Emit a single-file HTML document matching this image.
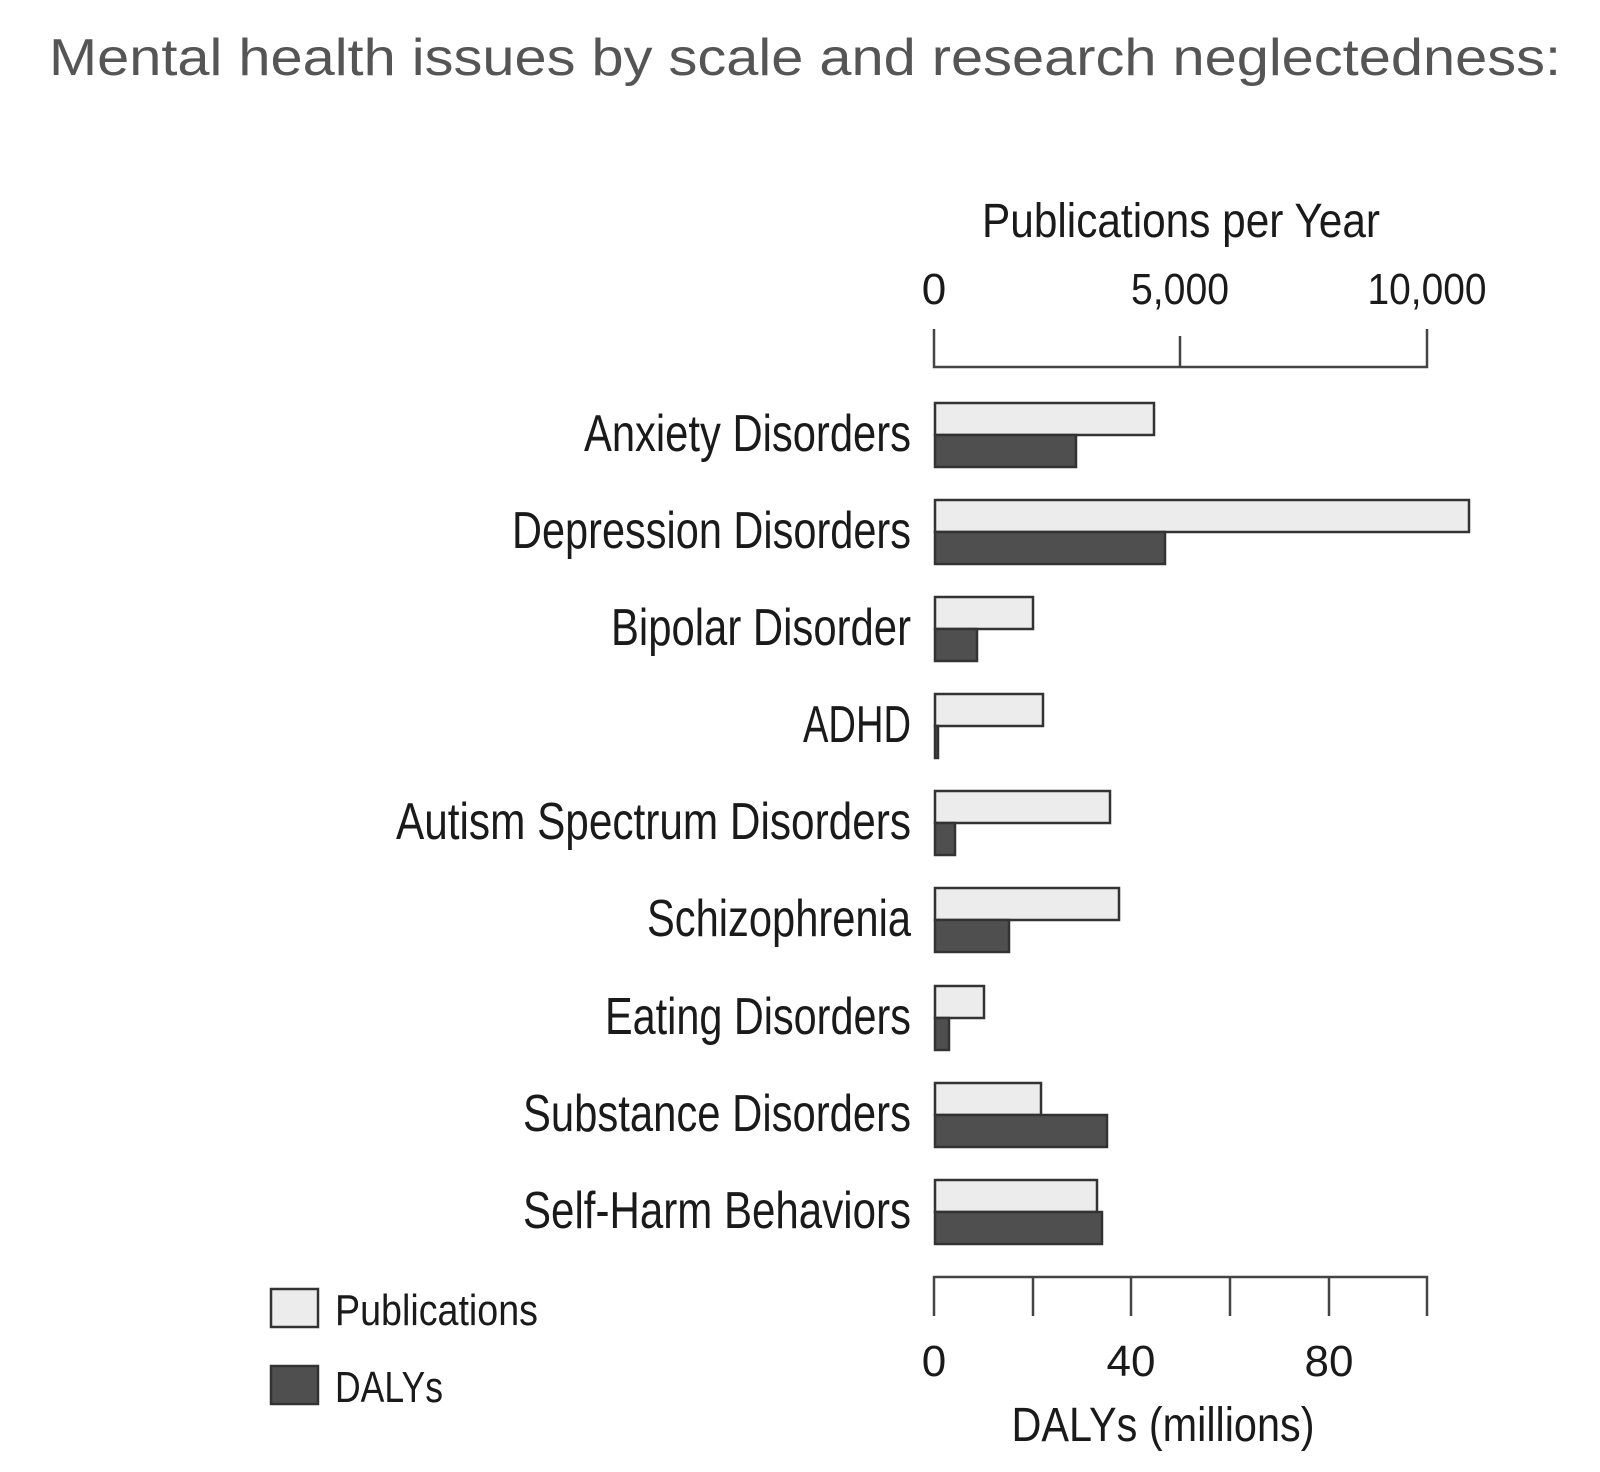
<!DOCTYPE html>
<html><head><meta charset="utf-8"><style>
html,body{margin:0;padding:0;background:#fff;}
svg{display:block;}
.n{font-family:"Liberation Sans",sans-serif;fill:#1a1a1a;}
</style></head><body>
<svg width="1600" height="1472" viewBox="0 0 1600 1472" xmlns="http://www.w3.org/2000/svg">
<text x="49" y="75" font-family="Liberation Sans, sans-serif" font-size="52" fill="#555" textLength="1512" lengthAdjust="spacingAndGlyphs">Mental health issues by scale and research neglectedness:</text>
<text class="n" x="982" y="237" font-size="48" textLength="398" lengthAdjust="spacingAndGlyphs">Publications per Year</text>
<g class="n" font-size="44" text-anchor="middle">
<text x="934" y="304">0</text>
<text x="1180" y="304" textLength="98" lengthAdjust="spacingAndGlyphs">5,000</text>
<text x="1427" y="304" textLength="119" lengthAdjust="spacingAndGlyphs">10,000</text>
<text x="934" y="1376">0</text><text x="1131" y="1376">40</text><text x="1329" y="1376">80</text>
</g>
<text class="n" x="1163" y="1441" font-size="48" text-anchor="middle" textLength="303" lengthAdjust="spacingAndGlyphs">DALYs (millions)</text>
<g stroke="#444" stroke-width="2.5" fill="none">
<path d="M934,329V367H1427V329M1180,336V367"/>
<path d="M934,1316V1277H1427V1316M1033,1277V1316M1131,1277V1316M1230,1277V1316M1329,1277V1316"/>
</g>
<g stroke="#333" stroke-width="2.5">
<rect x="935" y="403" width="219" height="32" fill="#ebeceb"/><rect x="935" y="435" width="141" height="32" fill="#4f4f50"/>
<rect x="935" y="500" width="534" height="32" fill="#ebeceb"/><rect x="935" y="532" width="230" height="32" fill="#4f4f50"/>
<rect x="935" y="597" width="98" height="32" fill="#ebeceb"/><rect x="935" y="629" width="42" height="32" fill="#4f4f50"/>
<rect x="935" y="694" width="108" height="32" fill="#ebeceb"/><rect x="935" y="726" width="3" height="32" fill="#4f4f50"/>
<rect x="935" y="791" width="175" height="32" fill="#ebeceb"/><rect x="935" y="823" width="20" height="32" fill="#4f4f50"/>
<rect x="935" y="888" width="184" height="32" fill="#ebeceb"/><rect x="935" y="920" width="74" height="32" fill="#4f4f50"/>
<rect x="935" y="986" width="49" height="32" fill="#ebeceb"/><rect x="935" y="1018" width="14" height="32" fill="#4f4f50"/>
<rect x="935" y="1083" width="106" height="32" fill="#ebeceb"/><rect x="935" y="1115" width="172" height="32" fill="#4f4f50"/>
<rect x="935" y="1180" width="162" height="32" fill="#ebeceb"/><rect x="935" y="1212" width="167" height="32" fill="#4f4f50"/>
</g>
<g class="n" font-size="52" text-anchor="end">
<text x="911" y="451" textLength="327" lengthAdjust="spacingAndGlyphs">Anxiety Disorders</text>
<text x="911" y="548" textLength="399" lengthAdjust="spacingAndGlyphs">Depression Disorders</text>
<text x="911" y="645" textLength="300" lengthAdjust="spacingAndGlyphs">Bipolar Disorder</text>
<text x="911" y="742" textLength="108" lengthAdjust="spacingAndGlyphs">ADHD</text>
<text x="911" y="839" textLength="515" lengthAdjust="spacingAndGlyphs">Autism Spectrum Disorders</text>
<text x="911" y="936" textLength="264" lengthAdjust="spacingAndGlyphs">Schizophrenia</text>
<text x="911" y="1034" textLength="306" lengthAdjust="spacingAndGlyphs">Eating Disorders</text>
<text x="911" y="1131" textLength="388" lengthAdjust="spacingAndGlyphs">Substance Disorders</text>
<text x="911" y="1228" textLength="388" lengthAdjust="spacingAndGlyphs">Self-Harm Behaviors</text>
</g>
<rect x="271" y="1289" width="47" height="38" fill="#ebeceb" stroke="#333" stroke-width="2.5"/>
<rect x="271" y="1366" width="47" height="38" fill="#4f4f50" stroke="#333" stroke-width="2.5"/>
<text class="n" x="335" y="1325" font-size="44" textLength="203" lengthAdjust="spacingAndGlyphs">Publications</text>
<text class="n" x="335" y="1402" font-size="44" textLength="108" lengthAdjust="spacingAndGlyphs">DALYs</text>
</svg>
</body></html>
